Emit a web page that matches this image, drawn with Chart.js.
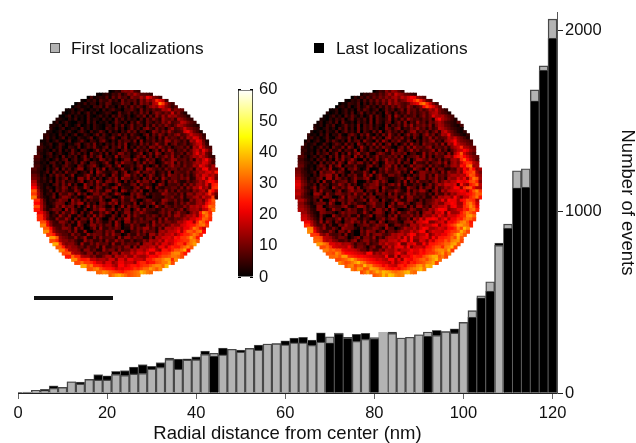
<!DOCTYPE html>
<html><head><meta charset="utf-8">
<style>html,body{margin:0;padding:0;background:#fff}canvas{position:absolute;display:block}#heatA,#heatB{filter:blur(.3px)}</style>
<script src="https://cdn.jsdelivr.net/npm/chart.js@4"></script>
</head><body>
<canvas id="main" width="636" height="443" style="left:0;top:0"></canvas>
<canvas id="heatA" width="187" height="187" style="left:31px;top:90px"></canvas>
<canvas id="heatB" width="187" height="187" style="left:295px;top:90px"></canvas>
<canvas id="cbar" width="60" height="225" style="left:230px;top:71px"></canvas>
<script>
// All values are estimates.
const radialBins=[0,2,4,6,8,10,12,14,16,18,20,22,24,26,28,30,32,34,36,38,40,42,44,46,48,50,52,54,56,58,60,62,64,66,68,70,72,74,76,78,80,82,84,86,88,90,92,94,96,98,100,102,104,106,108,110,112,114,116,118,120];
const firstCounts=[0,2,15,13,26,31,62,50,75,72,72,103,97,105,108,132,143,185,132,182,184,213,219,211,241,226,246,237,270,272,266,277,277,263,281,310,330,307,285,297,305,334,329,303,307,321,336,318,338,331,389,454,536,613,814,931,1225,1236,1671,1803,2061];
const lastCounts=[4,5,15,20,40,31,62,60,75,101,95,119,123,143,156,147,167,193,187,189,200,231,204,248,241,237,246,264,270,272,288,303,307,292,332,277,327,301,323,329,299,334,336,303,307,321,314,345,338,354,389,419,525,562,826,909,1131,1135,1611,1780,1956];
const xTicks=[0,20,40,60,80,100,120];
const yTicks=[0,1000,2000];
const cbarTicks=[0,10,20,30,40,50,60];
const legendLabels=["First localizations","Last localizations"];
// Heat-map levels, hand-estimated by eye (overall brightness and rim, not exact per-cell readings):
// one base-36 character per cell along each row of the disc.
const heatLevelUnit=1.5;
const heatRowsA=[
"01352768796431","1023143625486a755432","04123251637452866a7ec864","10324153362417354628597aheb4","02141330426512373451628574acmia643",
"02311204351623041527364158a8ec8635","13024102130413522046317253645a9c5876","20131402513012430162351427361586475c5842","10240312051024130526314025371628495a896542","21031402051320413062514230516374296573a8643",
"13024100320514021302631405273164253859456ba7542","2130410250130421034052613724516273648536a975432","3102401320513042105326140372516842735169457c87542","2013024103520412630513042736154028637495345cea642","3120413025014203615204372516320471638526479458c9863",
"2413025031042136025413720561437206351728465374a8dc743","1302410250136204315720416352708143625398475362a8ec62","31240153021460352713042516380241736259438157346258bc73","4213025104316025372146053728041635287495361456372a8e954","3120415031620541037261452047318253604718396254736ac8ea6",
"42135024103625140732516042873512480372961548346275ae9c642","5302413061425037162580431926503748261735849362547a9ca743","42130251460351274031862514037295138460273598456372a8cf95","31204513064251730652148207395416283750148692736458a9dc84","4213052146320751468302571490352681403715269563745a8ec96a",
"5320413706251480361729054138260471985352746364572a8ef7a9","4312506241735024180963257148035926471352806547368a9cdag","6413052746138025941637208514936270485137296473625a8dc9b7","75241306257140839261503748196254073826195364758239ae8fc6","a423150637241580362951748306152947380261758426357a8dgfc",
"c5312046273815094627385104932671845302961546273859a8d6gh","f73142053861472950386142790531682495073254637285a9e8a5hi","k9412506374285106947328150962473805126493627453869b6ifa","ia5132607485193602748513962074851624397546372859a8cha6","m9521370486251039748265103947286510432657348269a7c9ai4",
"ha413258609471625384019627385104763298547362859a6bgk","fa5124760385916240738591642807359148526374859a8ehj","jb6213849571603928475160392847516039427536485a9b9dglk","gb524760938416027593481627059384523746358269a7bcim","ea613728495061382749506138275964325748369527a8gnlh",
"hb72429538174062938517406293853647526384957a9c8fjmi","hc63284950716392840571639254736528394657a8cfglkh","jd74385261940837526194083746529384756a9cf9hmkg","me84473619502847361950384627395846a8cdfgjlmi","kf8548629370482936475028375946283a9bdaehmkgc",
"nh96547382910463758291047385629a8bcfagkilmf","ig975384629576384950273846295a8bd9cfhjmkh","ok97648359273845629384756283a9cdbgfikolg","jha8674295736284957362485a9c8ecfghimnk","ph9785293748562937465829a7c8dacgiekmo",
"kg9a856374829365748293a9bc8eafhgjlnk","mha97384629573846a8b9cfa8gehkmpf","jkb96483756294a8c9dbfagfhimnjg","glha96847a5b9c8da9cfehjkmlj","nighb9a8c7d9ebcagikmohn",
"jlihfc9d8aebc9fhegjkmpj","pkmhgdeb9fcegfhikmnlq","kmnjhgfcedfgihjlomkn","lnmkjihgijklmqoml","kmopnmljklmn"
];
const heatRowsB=[
"02463875986532","1324536478a6c9865432","03142536475869a7b9cfe975","1032415263748596a578cdhkgb65","02143250415263748a697546acekmhc743",
"0231402513624152637485496357fjgd96","1302413052641350263514728563746a8c753","2013024150361425130741625384635748ab7542","1024130526314052716304819526374625847da9a7542","2103142503614251706324815273964536472cfa8642",
"1302415062130524170631526047281539462758a8543261","2130425013624170536142071536284936574827a9653214","3102413052614071536240175268143759462735ba8643215","2013042150362417053162804173526148936472583ac8642130","3120415032610574163820517394260483751694725a9e754213",
"2413025104632715041638250719364825173064937456b9c86421","1302410526314072561843072951648327305164793528acf97654","31240152036417250841639270548160372945185647392a8fb98651","4213025140632718503941627385410572839564792654738acha9762","3120415062371542807316524093718625947354692836158bcfd97",
"42130524613705182693471058639285647045129374856293aekc9754","53024153062718450937162483546472804568392716549a7egifc976","42130526140738259406173825946384170596485372649a8hkfb85","53214061537284096372518402967381650943725684928a7cgihb9","63120475182690543721682504793816039475283642759a8gekm9a",
"64213052739148065830270164953845729641908376254a8fcjf8a","7431250846937510623840915374682519038647528396a7fhika7","853204176938051647294915832746305164837295648a9bagkjc9","a6413257092863514847920586413572964183759462a8dae8hmka","c752416092835672480163794850362917384526947a8bfedfjkh8",
"d86325073514963825016479352684917253604837a8cbd4ga8gilb","c74248163095374928146870953246196518372946a8bf8hjkeaa","a85317293405813795706428173596318275940683a7bcdfe9gkni","b74209618437547394827065182735947352618495a8cdfgilk","96432618750492863715704536719284536284a9b8fa7chjmg",
"a7425180693763724581960731495287316257a9e8fe9fgjiha","8531467295073846315794603829461372568a7cdfe9gkmic","975218036547931497258460963581729463a9bd8efahjnke","a8632871395048562736184719502486375a8cfe79adhglmh","96421875304857623941685037294853718a6cbe6f9agjmki",
"b853172095364728135906417392658473a8c9eb8dcfhinol","c974280536917583264105836971482a7d8efe9cf9ehgkmli","ea63928517406957382761950463178a5bcef7acd8fegjmnkg","hb7482617596045735869127463a8c9bef8dgikomlh","mc859374097631625874195036a8b7cfe9bdcafhmjqn",
"ne9648517393074972582647a8c9bf6adcbfgikpmj","ih97a54628130649378546a9b8cfe8bf7adcehjmqnk","kjba96475036827492638a9c7e8f9cde8fbghiljpk","lkcab87463792584639a8bc9de8f7dc8ebghkimnoj","omkdbc9a7364835a8c9bf6dce8faghijlopk",
"jlidcbae94751683a7c8de9f7bcafgikhmnqj","mkljedcb9637485a9c8bcfdgehjmnlpi","kjnlhfedcb9f7a8cb9dfa8ecdgfhikmojm","lmkoihgfedcba9f7e6dcfhgjlnpkmj","jklnpmjihgfecdbaf9e8gfehikljmoql",
"nljkmoqnlihgfedcbae9cegdhgijkmnpjo","kmnjlkoqmnjihfegdcbfghfijkmnolqpk","mkolnjmkpqonlkjihgfegeghijkmlnopqmk","jlmoknmplnqrponmlkmnopqrmlk","klnmoqpnorpqmnlmknp"
];
function hot(v){const t=Math.max(0,Math.min(1,v/60));
  const r=Math.min(1,t/.375),g=Math.max(0,Math.min(1,(t-.375)/.375)),b=Math.max(0,Math.min(1,(t-.75)/.25));
  return `rgb(${Math.round(r*255)},${Math.round(g*255)},${Math.round(b*255)})`;}
const xy=a=>a.map((v,i)=>({x:radialBins[i],y:v}));
const GRAY="#b3b3b3",EDGE="#484848",EDGE_DARK="#6a6a6a";
const borderOf=ctx=>(ctx.raw&&ctx.raw.x===82)?GRAY:EDGE;
const fontFamily="'Liberation Sans',Arial,sans-serif";
const tickFont={family:fontFamily,size:16.5},titleFont={family:fontFamily,size:18.5,lineHeight:1};
const overlay={id:"overlay",afterDraw(c){const g=c.ctx;g.save();
  g.fillStyle="#111";g.fillRect(34,296,79,4);
  g.fillStyle=GRAY;g.strokeStyle=EDGE;g.lineWidth=1;g.fillRect(50.5,43.5,9,9);g.strokeRect(50.5,43.5,9,9);
  g.fillStyle="#000";g.fillRect(314,43,10,10);
  g.fillStyle="#111";g.font="17.3px "+fontFamily;g.textBaseline="alphabetic";
  g.fillText(legendLabels[0],71,54);g.fillText(legendLabels[1],336,54);
  g.restore();}};
new Chart(document.getElementById("main"),{type:"bar",
  data:{datasets:[
    {label:"Last localizations",data:xy(lastCounts),backgroundColor:"#000",borderColor:EDGE_DARK,borderWidth:.8,order:3,grouped:false},
    {label:"First localizations",data:xy(firstCounts),backgroundColor:GRAY,borderColor:borderOf,borderWidth:1.4,order:2,grouped:false},
    {label:"Last (shorter)",data:xy(lastCounts).map((p,i)=>lastCounts[i]<firstCounts[i]?p:{x:p.x,y:null}),backgroundColor:"#000",borderColor:EDGE_DARK,borderWidth:.8,order:1,grouped:false}
  ]},
  options:{responsive:false,animation:false,events:[],
    layout:{padding:{left:18,top:12,right:0,bottom:0}},
    plugins:{legend:{display:false},tooltip:{enabled:false}},
    datasets:{bar:{barPercentage:1,categoryPercentage:1}},
    scales:{
      x:{type:"linear",min:0,max:121,offset:false,
        afterFit(s){s.height=50;},
        afterBuildTicks(s){s.ticks=xTicks.map(v=>({value:v}));},
        grid:{display:true,offset:false,drawOnChartArea:false,drawTicks:true,tickLength:6,tickColor:"#666",tickWidth:1},
        border:{display:true,color:"#222",width:1},
        ticks:{color:"#111",font:tickFont,padding:5,maxRotation:0,autoSkip:false,callback:v=>String(v)},
        title:{display:true,text:"Radial distance from center (nm)",color:"#111",font:titleFont,padding:{top:0,bottom:0}}},
      y:{position:"right",min:0,max:2100,
        afterFit(s){s.width=79;},
        afterBuildTicks(s){s.ticks=yTicks.map(v=>({value:v}));},
        grid:{display:true,drawOnChartArea:false,drawTicks:true,tickLength:6,tickColor:"#222",tickWidth:1},
        border:{display:true,color:"#555",width:1},
        ticks:{color:"#111",font:tickFont,padding:2,autoSkip:false,callback:v=>String(v)},
        title:{display:true,text:"Number of events",color:"#111",font:titleFont,padding:{top:0,bottom:2}}}
    }},plugins:[overlay]});
function heat(id,rows){
  const pts=[],R=30;
  rows.forEach((row,r)=>{const dy=r+.5-30,hw=Math.sqrt(Math.max(0,R*R-dy*dy));
    const c0=Math.round(30-hw),c1=Math.round(30+hw),n=c1-c0;
    for(let c=c0;c<c1;c++){const ch=row[Math.floor((c-c0)*row.length/n)];
      pts.push({x:c+.5,y:r+.5,v:parseInt(ch,36)*heatLevelUnit});}});
  new Chart(document.getElementById(id),{type:"scatter",
    data:{datasets:[{data:pts,pointStyle:"rect",pointRadius:2.8,pointBorderWidth:0,
      pointBackgroundColor:c=>hot(c.raw.v)}]},
    options:{responsive:false,animation:false,events:[],layout:{padding:0,autoPadding:false},
      plugins:{legend:{display:false},tooltip:{enabled:false}},
      scales:{x:{display:false,min:0,max:60},y:{display:false,min:0,max:60,reverse:true}}}});
}
heat("heatA",heatRowsA);heat("heatB",heatRowsB);
const inner=(extra)=>Object.assign({min:0,max:60,
  afterBuildTicks(s){s.ticks=cbarTicks.map(v=>({value:v}));},
  grid:{display:true,drawOnChartArea:false,drawTicks:true,tickLength:-3,tickColor:"#000"},
  border:{display:false}},extra);
new Chart(document.getElementById("cbar"),{type:"bar",
  data:{labels:[""],datasets:[{data:[60],borderColor:"#000",borderWidth:1,barPercentage:1,categoryPercentage:1,
    backgroundColor(c){const a=c.chart.chartArea;if(!a)return"#000";
      const g=c.chart.ctx.createLinearGradient(0,a.bottom,0,a.top);
      for(let i=0;i<=20;i++)g.addColorStop(i/20,hot(i*3));return g;}}]},
  options:{responsive:false,animation:false,events:[],
    layout:{padding:{left:8,top:0,bottom:0,right:0}},
    plugins:{legend:{display:false},tooltip:{enabled:false}},
    scales:{x:{display:false},
      y:inner({position:"right",afterFit(s){s.width=37;},
        ticks:{color:"#111",font:tickFont,padding:9,autoSkip:false,callback:v=>String(v)}}),
      yl:inner({position:"left",afterFit(s){s.width=0;},ticks:{display:false}})}}});
</script>
</body></html>
